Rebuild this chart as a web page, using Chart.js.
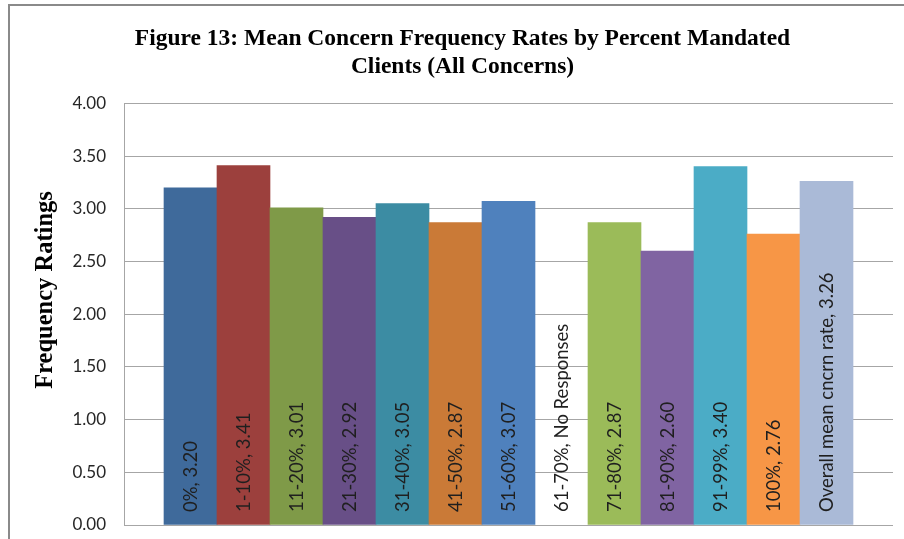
<!DOCTYPE html>
<html>
<head>
<meta charset="utf-8">
<script src="https://cdn.jsdelivr.net/npm/chart.js@4.4.1/dist/chart.umd.min.js"></script>
<style>
  html, body { margin: 0; padding: 0; background: #ffffff; }
  #wrap { width: 904px; height: 539px; position: relative; }
</style>
</head>
<body>
<div id="wrap"><canvas id="c" width="904" height="539"></canvas></div>
<script>
// ---- data ----
const categories = ['0%', '1-10%', '11-20%', '21-30%', '31-40%', '41-50%', '51-60%',
                    '61-70%', '71-80%', '81-90%', '91-99%', '100%', 'Overall mean cncrn rate'];
const meanRates = [3.20, 3.41, 3.01, 2.92, 3.05, 2.87, 3.07, null, 2.87, 2.60, 3.40, 2.76, 3.26];
const noResponseText = 'No Responses';
const yTicks = [0, 0.5, 1, 1.5, 2, 2.5, 3, 3.5, 4];
const titleLines = ['Figure 13: Mean Concern Frequency Rates by Percent Mandated', 'Clients (All Concerns)'];
const yTitle = 'Frequency Ratings';

const barColors = ['#3F6A9B', '#9C403D', '#7F9A48', '#684F87', '#3C8CA3', '#CA7A37', '#4F81BD',
                   '#C0504D', '#9BBB59', '#8064A2', '#4BACC6', '#F79646', '#AABAD7'];

const points = meanRates.map((v, i) => ({ x: i, y: v }));

const framePlugin = {
  id: 'frame',
  beforeDraw(chart) {
    const ctx = chart.ctx;
    ctx.save();
    ctx.fillStyle = '#ffffff';
    ctx.fillRect(0, 0, chart.width, chart.height);
    ctx.strokeStyle = '#8a8a8a';
    ctx.lineWidth = 2;
    ctx.beginPath();
    ctx.moveTo(9, chart.height + 2);
    ctx.lineTo(9, 5);
    ctx.lineTo(chart.width + 2, 5);
    ctx.stroke();
    ctx.restore();
  }
};

const labelPlugin = {
  id: 'barLabels',
  afterDatasetsDraw(chart) {
    const ctx = chart.ctx;
    const xs = chart.scales.x, ys = chart.scales.y;
    ctx.save();
    ctx.font = '18.5px Lato';
    ctx.fillStyle = '#1f1f1f';
    ctx.textAlign = 'left';
    ctx.textBaseline = 'middle';
    const y0 = ys.getPixelForValue(0) - 13;
    categories.forEach((cat, i) => {
      const v = meanRates[i];
      const txt = cat + ', ' + (v === null ? noResponseText : v.toFixed(2));
      const x = xs.getPixelForValue(i) + 1;
      ctx.save();
      ctx.translate(x, y0);
      ctx.rotate(-Math.PI / 2);
      ctx.fillText(txt, 0, 0);
      ctx.restore();
    });
    // y axis title
    ctx.font = 'bold 24.5px "Liberation Serif"';
    ctx.fillStyle = '#000000';
    ctx.textAlign = 'center';
    ctx.save();
    ctx.translate(46, 290);
    ctx.rotate(-Math.PI / 2);
    ctx.fillText(yTitle, 0, 0);
    ctx.restore();
    ctx.restore();
  }
};

new Chart(document.getElementById('c'), {
  type: 'bar',
  data: {
    datasets: [{
      data: points,
      backgroundColor: barColors,
      borderWidth: 0,
      barPercentage: 1,
      categoryPercentage: 1
    }]
  },
  options: {
    responsive: false,
    animation: false,
    devicePixelRatio: 1,
    layout: { padding: { left: 32, right: 11, top: 0, bottom: 14 } },
    plugins: {
      legend: { display: false },
      tooltip: { enabled: false },
      title: {
        display: true,
        text: titleLines,
        color: '#000000',
        font: { family: '"Liberation Serif"', size: 23.5, weight: 'bold', lineHeight: 1.2 },
        padding: { top: 25, bottom: 22 }
      }
    },
    scales: {
      x: {
        type: 'linear',
        display: false,
        offset: false,
        min: -1.2547,
        max: 13.2547,
        grid: { display: false, offset: false },
        afterFit(scale) {
          scale.height = 0;
          scale.paddingTop = 0; scale.paddingBottom = 0;
          scale.paddingLeft = 0; scale.paddingRight = 0;
        }
      },
      y: {
        min: 0,
        max: 4,
        afterFit(scale) {
          scale.width = 92;
          scale.paddingTop = 0; scale.paddingBottom = 0;
        },
        afterBuildTicks(scale) { scale.ticks = yTicks.map(v => ({ value: v })); },
        ticks: {
          padding: 18,
          color: '#262626',
          font: { family: 'Lato', size: 17 },
          callback: (v) => Number(v).toFixed(2)
        },
        grid: { color: '#a6a6a6', lineWidth: 1, drawTicks: false },
        border: { display: true, color: '#a6a6a6', width: 1 }
      }
    }
  },
  plugins: [framePlugin, labelPlugin]
});
</script>
</body>
</html>
